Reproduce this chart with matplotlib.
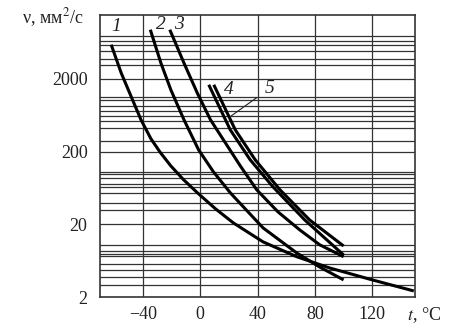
import matplotlib
matplotlib.use("Agg")
import matplotlib.pyplot as plt

plt.rcParams["font.family"] = ["Liberation Serif", "DejaVu Serif"]
plt.rcParams["mathtext.fontset"] = "stix"

# curves: temperature (deg C) and viscosity (mm^2/s)
t1 = [-62.2, -55.2, -48.3, -41.4, -34.5, -28, -20.6, -11.6, -1.9, 10.6, 23,
      43.8, 67.3, 90.2, 120, 149]
v1 = [5850, 2390, 1140, 545, 300, 195, 127, 81.7, 54, 32.7, 21,
      11.5, 7.2, 5.05, 3.46, 2.44]

t2 = [-34.9, -27.5, -20.6, -11.4, -1.2, 9.2, 21, 32.7, 43.8, 67.3, 83.3, 100]
v2 = [9400, 3275, 1410, 545, 211, 105, 54, 30.6, 17.9, 8.1, 5.2, 3.46]

t3 = [-21.3, -11.4, -2.1, 7.1, 16.1, 27.9, 39.4, 54.2, 69.4, 83.3, 100]
v3 = [9400, 3275, 1270, 545, 290, 127, 59.6, 29.7, 16.8, 10.5, 7.2]

t4 = [5.9, 20.9, 34.8, 50.7, 72.9, 100]
v4 = [1650, 397, 154, 65.5, 23, 7.6]

t5 = [9.4, 24.4, 38.3, 55.6, 76.3, 100]
v5 = [1650, 397, 154, 59.6, 23, 10.1]

curves = [(t1, v1), (t2, v2), (t3, v3), (t4, v4), (t5, v5)]

xticks = [-40, 0, 40, 80, 120]
yticks = [2, 20, 200, 2000]
# uneven grid of the original log paper
hgrid = [2.95, 3.8, 4.7, 5.7, 7.4, 7.8, 8.7, 10.5, 20,
         31.6, 39, 53.7, 66, 71, 86, 98.8, 106, 200,
         283, 414, 523, 613, 718, 841, 1004, 1117, 2000,
         3040, 3750, 4730, 5720, 6630, 7600]

fig = plt.figure(figsize=(4.74, 3.31), dpi=100)
ax = fig.add_axes([0.211, 0.102, 0.665, 0.853])

for y in hgrid:
    ax.axhline(y, color="#333333", lw=0.9, zorder=1)
for x in xticks:
    ax.axvline(x, color="#333333", lw=0.9, zorder=1)

for t, v in curves:
    ax.plot(t, v, color="black", lw=2.2, solid_capstyle="butt",
            solid_joinstyle="round", zorder=3)

ax.set_yscale("log")
ax.set_xlim(-70, 150)
ax.set_ylim(2, 15000)
ax.set_xticks(xticks)
ax.set_xticklabels(["\u221240", "0", "40", "80", "120"])
ax.set_yticks(yticks)
ax.set_yticklabels([str(y) for y in yticks])
ax.yaxis.set_minor_locator(matplotlib.ticker.NullLocator())
ax.tick_params(length=0, labelsize=13, colors="#222222")
ax.tick_params(axis="y", pad=9)
ax.tick_params(axis="x", pad=6)
for s in ax.spines.values():
    s.set_linewidth(1.2)
    s.set_color("#333333")

lab = dict(fontsize=14, style="italic", ha="center", va="center", color="#222222")
ax.text(-58.7, 10400, "1", **lab)
ax.text(-27.8, 11000, "2", **lab)
ax.text(-14.7, 11000, "3", **lab)
ax.text(19.6, 1410, "4", **lab)
ax.annotate("5", xy=(21, 605), xytext=(48, 1450), fontsize=14, style="italic",
            ha="center", va="center", color="#222222",
            arrowprops=dict(arrowstyle="-", lw=0.8, color="#222222",
                            shrinkA=4, shrinkB=0))

fig.text(0.047, 0.948, "\u03bd, \u043c\u043c$^2$/\u0441", fontsize=13,
         ha="left", va="center", color="#222222")
fig.text(0.858, 0.048, "$t$, \u00b0C", fontsize=13, ha="left", va="center",
         color="#222222")

fig.savefig("out.png", dpi=100)
